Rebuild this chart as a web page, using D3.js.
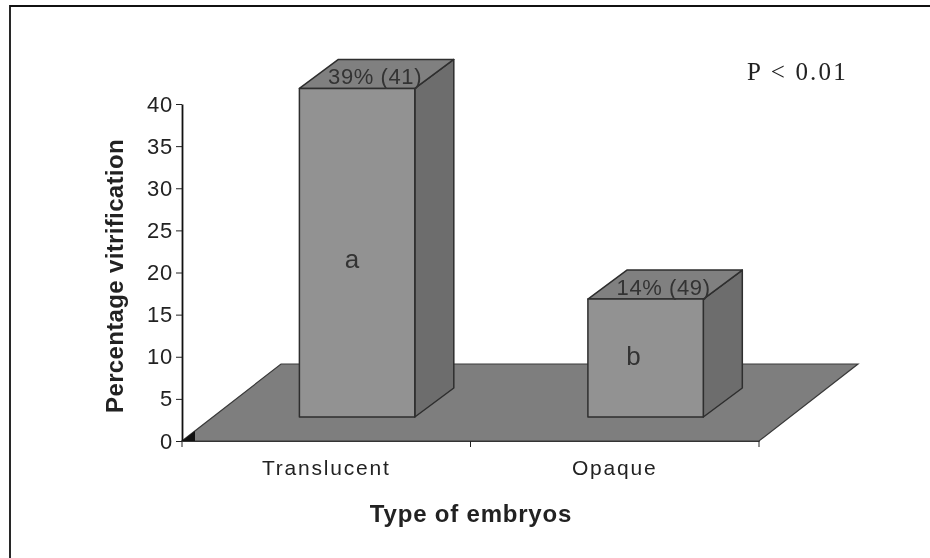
<!DOCTYPE html>
<meta charset="utf-8" />
<style>
  body { margin: 0; background: #fff; }
  text { fill: #222; font-family: "Liberation Sans", sans-serif; }
</style>
<script src="https://d3js.org/d3.v7.js"></script>
<div id="chart"></div>
<script>
  // values
  const categories = ["Translucent", "Opaque"];
  const percent = [39, 14];
  const barLabels = ["39% (41)", "14% (49)"];
  const letters = ["a", "b"];
  const yTicks = [0, 5, 10, 15, 20, 25, 30, 35, 40];

  const width = 930;
  const height = 558;

  // plot area
  const x0 = 182;
  const x1 = 759;
  const yBase = 441;
  const yTop = 104;

  // floor depth, and how far into it the bars stand
  const floorDx = 99;
  const floorDy = 77;
  const barShift = 24 / 77;
  const barDx = 39;
  const barDy = 29;

  const svg = d3
    .select("#chart")
    .append("svg")
    .attr("width", width)
    .attr("height", height)
    .style("display", "block")
    .style("filter", "blur(0.4px)"); // the reference is a soft scan

  // frame, only top and left are in the picture
  svg
    .append("path")
    .attr("d", d3.line()([[10, height], [10, 6], [width, 6]]))
    .attr("fill", "none")
    .attr("stroke", "#111")
    .attr("stroke-width", 1.8);

  const y = d3.scaleLinear().domain([0, 40]).range([yBase, yTop]);
  const x = d3.scaleBand().domain(categories).range([x0, x1]);

  const poly = (pts) => d3.line()(pts) + "Z";

  // floor
  svg
    .append("path")
    .attr(
      "d",
      poly([
        [x0, yBase],
        [x1, yBase],
        [x1 + floorDx, yBase - floorDy],
        [x0 + floorDx, yBase - floorDy],
      ])
    )
    .attr("fill", "#7e7e7e")
    .attr("stroke", "#3a3a3a")
    .attr("stroke-width", 1.2);

  // little black corner at the origin
  svg
    .append("path")
    .attr("d", poly([[x0, yBase], [x0 + 13, yBase], [x0 + 13, yBase - 10]]))
    .attr("fill", "#111");

  const barW = x.bandwidth() * 0.4;
  const front = (i) => {
    const left =
      x(categories[i]) +
      (x.bandwidth() - barW) / 2 +
      floorDx * barShift;
    const bottom = yBase - floorDy * barShift;
    const top = bottom - (yBase - y(percent[i]));
    return { left, right: left + barW, top, bottom };
  };

  const bars = svg
    .append("g")
    .selectAll("g")
    .data(percent)
    .join("g")
    .attr("stroke", "#2e2e2e")
    .attr("stroke-width", 1.5)
    .attr("stroke-linejoin", "round");

  // side
  bars
    .append("path")
    .attr("fill", "#6d6d6d")
    .attr("d", (d, i) => {
      const f = front(i);
      return poly([
        [f.right, f.top],
        [f.right + barDx, f.top - barDy],
        [f.right + barDx, f.bottom - barDy],
        [f.right, f.bottom],
      ]);
    });

  // top
  bars
    .append("path")
    .attr("fill", "#808080")
    .attr("d", (d, i) => {
      const f = front(i);
      return poly([
        [f.left, f.top],
        [f.left + barDx, f.top - barDy],
        [f.right + barDx, f.top - barDy],
        [f.right, f.top],
      ]);
    });

  // front
  bars
    .append("rect")
    .attr("fill", "#929292")
    .attr("x", (d, i) => front(i).left)
    .attr("y", (d, i) => front(i).top)
    .attr("width", barW)
    .attr("height", (d, i) => front(i).bottom - front(i).top);

  // value labels sit on the top face
  svg
    .append("g")
    .selectAll("text")
    .data(barLabels)
    .join("text")
    .attr("x", (d, i) => (front(i).left + front(i).right) / 2 + 18)
    .attr("y", (d, i) => front(i).top - 4)
    .attr("text-anchor", "middle")
    .style("font-size", "22px")
    .style("letter-spacing", "0.6px")
    .style("fill", "#333")
    .text((d) => d);

  svg
    .append("g")
    .selectAll("text")
    .data(letters)
    .join("text")
    .attr("x", (d, i) => (front(i).left + front(i).right) / 2 - 5 - i * 7)
    .attr("y", (d, i) => (front(i).top + front(i).bottom) / 2 + (i == 0 ? 15 : 7))
    .attr("text-anchor", "middle")
    .style("font-size", "26px")
    .style("fill", "#333")
    .text((d) => d);

  // axes
  const yAxis = svg
    .append("g")
    .attr("class", "y-axis")
    .attr("transform", "translate(" + x0 + ",0)")
    .call(d3.axisLeft(y).tickValues(yTicks).tickSize(6).tickPadding(3).tickSizeOuter(0));
  yAxis.selectAll("text").style("font-size", "22px").style("letter-spacing", "0.8px");

  const xAxis = svg
    .append("g")
    .attr("class", "x-axis")
    .attr("transform", "translate(0," + yBase + ")")
    .call(d3.axisBottom(x).tickSize(0).tickPadding(19));
  xAxis.selectAll("text").style("font-size", "21px").style("letter-spacing", "1.8px");

  // ticks between the categories, not on them
  svg
    .append("g")
    .selectAll("line")
    .data([x0, x0 + x.bandwidth(), x1])
    .join("line")
    .attr("x1", (d) => d)
    .attr("x2", (d) => d)
    .attr("y1", yBase)
    .attr("y2", yBase + 6)
    .attr("stroke", "#222");

  yAxis.select(".domain").attr("stroke", "#111").attr("stroke-width", 1.8);
  xAxis.select(".domain").attr("stroke", "#333").attr("stroke-width", 1.1);
  svg.selectAll(".tick line").attr("stroke", "#222");
  svg.selectAll(".tick text").attr("fill", "#222").style("font-family", '"Liberation Sans", sans-serif');

  // titles
  svg
    .append("text")
    .attr("transform", "translate(123,276) rotate(-90)")
    .attr("text-anchor", "middle")
    .style("font-size", "24px")
    .style("font-weight", "bold")
    .style("letter-spacing", "0.35px")
    .text("Percentage vitrification");

  svg
    .append("text")
    .attr("x", 471)
    .attr("y", 522)
    .attr("text-anchor", "middle")
    .style("font-size", "24px")
    .style("font-weight", "bold")
    .style("letter-spacing", "0.8px")
    .text("Type of embryos");

  svg
    .append("text")
    .attr("x", 747)
    .attr("y", 80)
    .style("font-family", '"Liberation Serif", serif')
    .style("font-size", "25px")
    .style("letter-spacing", "2.2px")
    .text("P < 0.01");
</script>
